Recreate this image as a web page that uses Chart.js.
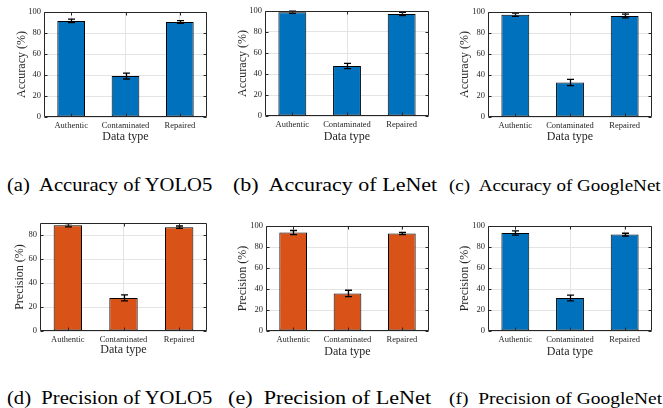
<!DOCTYPE html>
<html><head><meta charset="utf-8">
<script src="https://cdn.jsdelivr.net/npm/chart.js@4.4.1/dist/chart.umd.min.js"></script>
<style>
html,body{margin:0;padding:0;background:#fff;width:663px;height:408px;overflow:hidden;position:relative}
canvas.c{position:absolute}
.cap{position:absolute;font-family:'Liberation Serif','Times New Roman',serif;white-space:nowrap;transform-origin:0 0;color:#000;line-height:1}
</style></head><body>
<script>
// ---- data ----
const categories = ['Authentic', 'Contaminated', 'Repaired'];
const accYOLO5 = [91.5, 39.0, 90.5];
const accYOLO5Err = [1.7, 2.8, 1.3];
const accLeNet = [98.8, 47.6, 97.1];
const accLeNetErr = [1.0, 2.5, 1.5];
const accGoogleNet = [97.4, 32.8, 96.2];
const accGoogleNetErr = [1.5, 3.0, 1.8];
const precYOLO5 = [88.1, 27.6, 86.5];
const precYOLO5Err = [1.4, 2.5, 1.0];
const precLeNet = [93.7, 35.8, 92.8];
const precLeNetErr = [2.0, 3.0, 1.0];
const precGoogleNet = [93.3, 31.4, 91.8];
const precGoogleNetErr = [2.0, 2.7, 1.3];
const yTicks100 = [0, 20, 40, 60, 80, 100];
const yTicks90 = [0, 20, 40, 60, 80];
const yMax100 = 100;
const yMax90 = 90;
const xTitle = 'Data type';
const accTitle = 'Accuracy (%)';
const precTitle = 'Precision (%)';
const captions = [
  ['(a)', 'Accuracy of YOLO5'], ['(b)', 'Accuracy of LeNet'], ['(c)', 'Accuracy of GoogleNet'],
  ['(d)', 'Precision of YOLO5'], ['(e)', 'Precision of LeNet'], ['(f)', 'Precision of GoogleNet']
];

// ---- styling / layout ----
const BLUE = '#0072BD', ORANGE = '#D95319';
const FONT = "'Liberation Serif','Times New Roman',serif";
const AX = '#262626';

const panels = [
  {vals: accYOLO5, errs: accYOLO5Err, ticks: yTicks100, max: yMax100, title: accTitle, color: BLUE,
   cx: 0, cy: 0, yW: 44, pt: 12, pr: 14, xH: 43, tPad: 14.5, xtPad: 16.1},
  {vals: accLeNet, errs: accLeNetErr, ticks: yTicks100, max: yMax100, title: accTitle, color: BLUE,
   cx: 221, cy: 0, yW: 44, pt: 11, pr: 13, xH: 44, tPad: 14.5, xtPad: 16.1},
  {vals: accGoogleNet, errs: accGoogleNetErr, ticks: yTicks100, max: yMax100, title: accTitle, color: BLUE,
   cx: 442, cy: 0, yW: 46, pt: 12, pr: 11, xH: 43, tPad: 15.8, xtPad: 15.5},
  {vals: precYOLO5, errs: precYOLO5Err, ticks: yTicks90, max: yMax90, title: precTitle, color: ORANGE,
   cx: 0, cy: 210, yW: 40, pt: 13, pr: 14, xH: 39, tPad: 12.8, xtPad: 12.8},
  {vals: precLeNet, errs: precLeNetErr, ticks: yTicks100, max: yMax100, title: precTitle, color: ORANGE,
   cx: 221, cy: 210, yW: 45, pt: 16, pr: 13, xH: 39, tPad: 14.5, xtPad: 10.8},
  {vals: precGoogleNet, errs: precGoogleNetErr, ticks: yTicks100, max: yMax100, title: precTitle, color: BLUE,
   cx: 442, cy: 210, yW: 46, pt: 16, pr: 11, xH: 39, tPad: 16.1, xtPad: 10.8}
];

const decor = {
  id: 'decor',
  afterDatasetsDraw(chart, args, opts) {
    const ctx = chart.ctx, ys = chart.scales.y, xs = chart.scales.x;
    const meta = chart.getDatasetMeta(0), ds = chart.data.datasets[0];
    const a = chart.chartArea;
    ctx.save();
    // error bars
    ctx.strokeStyle = '#000'; ctx.lineWidth = 1.3;
    const cap = 3.5;
    meta.data.forEach((bar, i) => {
      const v = ds.data[i], e = opts.errors[i];
      const x = Math.round(bar.x) + 0.5;
      const y1 = ys.getPixelForValue(v + e), y2 = ys.getPixelForValue(v - e);
      ctx.beginPath();
      ctx.moveTo(x, y1); ctx.lineTo(x, y2);
      ctx.moveTo(x - cap, y1); ctx.lineTo(x + cap, y1);
      ctx.moveTo(x - cap, y2); ctx.lineTo(x + cap, y2);
      ctx.stroke();
    });
    // frame and inward ticks
    ctx.strokeStyle = AX; ctx.lineWidth = 1;
    const L = Math.round(a.left) + 0.5, R = Math.round(a.right) - 0.5;
    const T = Math.round(a.top) + 0.5, B = Math.round(a.bottom) - 0.5;
    ctx.beginPath();
    ctx.rect(L, T, R - L, B - T);
    const tl = 3;
    ys.ticks.forEach(t => {
      const y = Math.round(ys.getPixelForValue(t.value)) + 0.5;
      ctx.moveTo(L, y); ctx.lineTo(L + tl, y);
      ctx.moveTo(R, y); ctx.lineTo(R - tl, y);
    });
    xs.ticks.forEach((t, i) => {
      const x = Math.round(xs.getPixelForTick(i)) + 0.5;
      ctx.moveTo(x, T); ctx.lineTo(x, T + tl);
      ctx.moveTo(x, B); ctx.lineTo(x, B - tl);
    });
    ctx.stroke();
    ctx.restore();
  }
};

panels.forEach(p => {
  const cv = document.createElement('canvas');
  cv.className = 'c';
  cv.width = 221; cv.height = 160;
  cv.style.left = p.cx + 'px'; cv.style.top = p.cy + 'px';
  cv.style.width = '221px'; cv.style.height = '160px';
  document.body.appendChild(cv);
  new Chart(cv, {
    type: 'bar',
    data: {
      labels: categories,
      datasets: [{
        data: p.vals,
        backgroundColor: p.color,
        borderColor: '#000',
        borderWidth: 1,
        borderSkipped: false,
        categoryPercentage: 1.0,
        barPercentage: 0.51
      }]
    },
    options: {
      responsive: false,
      animation: false,
      devicePixelRatio: 1,
      layout: {padding: {left: 0, top: p.pt, right: p.pr, bottom: 0}},
      plugins: {legend: {display: false}, tooltip: {enabled: false}, decor: {errors: p.errs}},
      scales: {
        x: {
          offset: true,
          grid: {offset: false, color: '#e4e4e4', drawTicks: false, lineWidth: 1},
          border: {display: false},
          ticks: {padding: 3.3, maxRotation: 0, autoSkip: false, color: AX,
                  font: {family: FONT, size: 8.5}},
          title: {display: true, text: xTitle, color: AX, font: {family: FONT, size: 12},
                  padding: {top: 0, bottom: p.xtPad}},
          afterFit: s => { s.height = p.xH; }
        },
        y: {
          min: 0, max: p.max,
          afterBuildTicks: s => { s.ticks = p.ticks.map(v => ({value: v})); },
          grid: {color: '#e4e4e4', drawTicks: false, lineWidth: 1},
          border: {display: false},
          ticks: {padding: 3, color: AX, font: {family: FONT, size: 8.5}},
          title: {display: true, text: p.title, color: AX, font: {family: FONT, size: 12},
                  padding: {top: p.tPad, bottom: 0}},
          afterFit: s => { s.width = p.yW; }
        }
      }
    },
    plugins: [decor]
  });
});

// captions
const capPos = [
  {x: 7, base: 191, w: 205, size: 19}, {x: 233, base: 191, w: 204, size: 19}, {x: 449, base: 191, w: 212, size: 16},
  {x: 7, base: 404, w: 205, size: 19}, {x: 228, base: 404, w: 203, size: 19}, {x: 449, base: 404, w: 213, size: 16}
];
captions.forEach((c, i) => {
  const pp = capPos[i];
  const d = document.createElement('div');
  d.className = 'cap';
  d.style.fontSize = pp.size + 'px';
  d.textContent = c[0] + '\u00a0 ' + c[1];
  d.style.left = pp.x + 'px';
  d.style.top = (pp.base - 0.8375 * pp.size) + 'px';
  document.body.appendChild(d);
  const w = d.offsetWidth;
  d.style.transform = 'scaleX(' + (pp.w / w) + ')';
});
</script>
</body></html>
